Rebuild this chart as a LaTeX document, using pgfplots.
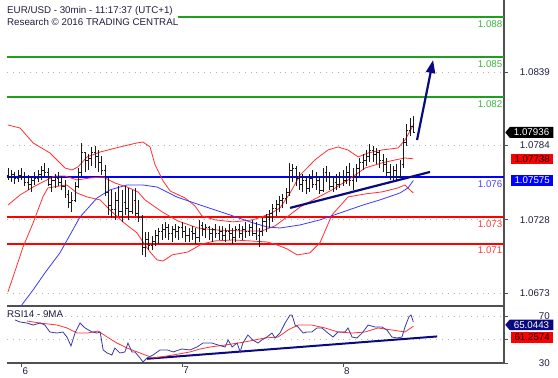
\documentclass[border=0pt]{standalone}
\usepackage{fontspec}
\setmainfont{Liberation Sans}
\usepackage{pgfplots}
\usepackage{pgfplotstable}
\pgfplotsset{compat=1.18}
\usetikzlibrary{shapes.symbols,arrows.meta}
\definecolor{barc}{HTML}{1A1A1A}
\definecolor{bbred}{HTML}{FF3030}
\definecolor{mablue}{HTML}{3A3AFF}
\definecolor{navyc}{HTML}{0A0A80}
\definecolor{lvgreen}{HTML}{1EA01E}
\definecolor{greent}{HTML}{3CB43C}
\definecolor{redt}{HTML}{FF3C3C}
\definecolor{bluet}{HTML}{4646FF}
\definecolor{axc}{HTML}{505050}
\definecolor{gridc}{HTML}{B4B4B4}
\definecolor{labc}{HTML}{1E1E3C}
\definecolor{rsiblue}{HTML}{3C3CA0}
\newcommand{\lbl}{\fontsize{9.8}{11}\selectfont}
\pgfdeclareplotmark{rtick}{\pgfpathmoveto{\pgfpointorigin}\pgfpathlineto{\pgfpoint{1.5bp}{0pt}}\pgfusepathqstroke}
\pgfdeclareplotmark{ltick}{\pgfpathmoveto{\pgfpointorigin}\pgfpathlineto{\pgfpoint{-1.5bp}{0pt}}\pgfusepathqstroke}
\pgfplotstableread{
i H L O C
0 1.07669 1.07579 1.07616 1.07609
1 1.07654 1.07564 1.07609 1.07624
2 1.07639 1.07549 1.07624 1.07594
3 1.07654 1.07564 1.07594 1.07616
4 1.07669 1.07579 1.07616 1.07601
5 1.07639 1.07534 1.07601 1.07564
6 1.07616 1.07504 1.07564 1.07549
7 1.07609 1.07489 1.07549 1.07579
8 1.07639 1.07541 1.07579 1.07594
9 1.07654 1.07564 1.07594 1.07624
10 1.07684 1.07579 1.07624 1.07654
11 1.07707 1.07609 1.07654 1.07639
12 1.07669 1.07534 1.07639 1.07549
13 1.07609 1.07489 1.07549 1.07579
14 1.07624 1.07519 1.07579 1.07594
15 1.07639 1.07534 1.07594 1.07564
16 1.07609 1.07504 1.07564 1.07534
17 1.07579 1.07444 1.07534 1.07474
18 1.07504 1.07369 1.07474 1.07414
19 1.07489 1.07339 1.07414 1.07429
20 1.07564 1.07414 1.07429 1.07534
21 1.07669 1.07519 1.07534 1.07639
22 1.07857 1.07609 1.07639 1.07789
23 1.07789 1.07639 1.07789 1.07729
24 1.07774 1.07654 1.07729 1.07744
25 1.07827 1.07684 1.07744 1.07789
26 1.07834 1.07669 1.07789 1.07759
27 1.07804 1.07639 1.07759 1.07714
28 1.07759 1.07616 1.07714 1.07654
29 1.07692 1.07459 1.07654 1.07489
30 1.07594 1.07316 1.07489 1.07391
31 1.07504 1.07294 1.07391 1.07354
32 1.07489 1.07279 1.07354 1.07429
33 1.07534 1.07309 1.07429 1.07339
34 1.07504 1.07264 1.07339 1.07414
35 1.07534 1.07316 1.07414 1.07369
36 1.07519 1.07279 1.07369 1.07339
37 1.07504 1.07324 1.07339 1.07429
38 1.07519 1.07309 1.07429 1.07324
39 1.07429 1.07264 1.07324 1.07294
40 1.07316 1.07016 1.07294 1.07069
41 1.07189 1.07001 1.07069 1.07129
42 1.07189 1.07054 1.07129 1.07084
43 1.07159 1.07054 1.07084 1.07114
44 1.07204 1.07084 1.07114 1.07159
45 1.07219 1.07099 1.07159 1.07189
46 1.07249 1.07129 1.07189 1.07204
47 1.07264 1.07144 1.07204 1.07219
48 1.07249 1.07129 1.07219 1.07174
49 1.07234 1.07114 1.07174 1.07204
50 1.07249 1.07144 1.07204 1.07189
51 1.07234 1.07129 1.07189 1.07219
52 1.07264 1.07144 1.07219 1.07189
53 1.07234 1.07114 1.07189 1.07159
54 1.07219 1.07114 1.07159 1.07189
55 1.07234 1.07129 1.07189 1.07174
56 1.07219 1.07099 1.07174 1.07144
57 1.07279 1.07114 1.07144 1.07234
58 1.07264 1.07159 1.07234 1.07204
59 1.07249 1.07144 1.07204 1.07219
60 1.07234 1.07129 1.07219 1.07174
61 1.07219 1.07114 1.07174 1.07204
62 1.07249 1.07144 1.07204 1.07174
63 1.07234 1.07129 1.07174 1.07189
64 1.07234 1.07129 1.07189 1.07159
65 1.07219 1.07114 1.07159 1.07189
66 1.07249 1.07129 1.07189 1.07174
67 1.07219 1.07099 1.07174 1.07144
68 1.07234 1.07114 1.07144 1.07204
69 1.07249 1.07144 1.07204 1.07174
70 1.07234 1.07129 1.07174 1.07204
71 1.07264 1.07144 1.07204 1.07189
72 1.07249 1.07159 1.07189 1.07219
73 1.07279 1.07159 1.07219 1.07174
74 1.07264 1.07129 1.07174 1.07159
75 1.07219 1.07076 1.07159 1.07189
76 1.07294 1.07159 1.07189 1.07264
77 1.07324 1.07189 1.07264 1.07294
78 1.07354 1.07219 1.07294 1.07324
79 1.07399 1.07264 1.07324 1.07369
80 1.07429 1.07309 1.07369 1.07399
81 1.07459 1.07339 1.07399 1.07429
82 1.07474 1.07369 1.07429 1.07444
83 1.07519 1.07399 1.07444 1.07489
84 1.07707 1.07459 1.07489 1.07654
85 1.07699 1.07564 1.07654 1.07669
86 1.07684 1.07534 1.07669 1.07594
87 1.07639 1.07504 1.07594 1.07549
88 1.07624 1.07489 1.07549 1.07579
89 1.07609 1.07474 1.07579 1.07519
90 1.07624 1.07489 1.07519 1.07594
91 1.07654 1.07519 1.07594 1.07549
92 1.07639 1.07504 1.07549 1.07579
93 1.07609 1.07474 1.07579 1.07504
94 1.07669 1.07489 1.07504 1.07639
95 1.07684 1.07564 1.07639 1.07609
96 1.07639 1.07504 1.07609 1.07534
97 1.07609 1.07489 1.07534 1.07564
98 1.07624 1.07504 1.07564 1.07549
99 1.07639 1.07519 1.07549 1.07609
100 1.07654 1.07534 1.07609 1.07579
101 1.07684 1.07549 1.07579 1.07639
102 1.07707 1.07534 1.07639 1.07579
103 1.07669 1.07504 1.07579 1.07609
104 1.07699 1.07564 1.07609 1.07669
105 1.07744 1.07609 1.07669 1.07714
106 1.07774 1.07654 1.07714 1.07729
107 1.07804 1.07684 1.07729 1.07759
108 1.07849 1.07714 1.07759 1.07804
109 1.07834 1.07714 1.07804 1.07774
110 1.07819 1.07699 1.07774 1.07789
111 1.07804 1.07669 1.07789 1.07729
112 1.07774 1.07639 1.07729 1.07699
113 1.07744 1.07609 1.07699 1.07639
114 1.07699 1.07579 1.07639 1.07609
115 1.07684 1.07564 1.07609 1.07654
116 1.07699 1.07579 1.07654 1.07609
117 1.07729 1.07594 1.07609 1.07699
118 1.07894 1.07669 1.07699 1.07864
119 1.07999 1.07834 1.07864 1.07954
120 1.08045 1.07909 1.07954 1.07984
121 1.08060 1.07939 1.07984 1.07936
}\bars
\begin{document}
\begin{tikzpicture}
\path[use as bounding box] (0,0) rectangle (558bp,378bp);
\begin{axis}[
  at={(7bp,72bp)}, anchor=south west,
  scale only axis, width=497bp, height=306bp,
  xmin=-0.3, xmax=148.06, ymin=1.06632, ymax=1.08931,
  axis x line*=bottom, axis y line*=right,
  xtick=\empty,
  ytick={1.0673,1.0728,1.0784,1.0839},
  yticklabels={1.0673,1.0728,1.0784,1.0839},
  ymajorgrids, grid style={gridc, dash pattern=on 0.8bp off 5bp, line width=0.7bp},
  tick align=outside, major tick length=4bp,
  tick style={axc, line width=0.8bp},
  axis line style={axc, line width=1.2bp},
  yticklabel style={font=\lbl, text=labc, anchor=east, xshift=42bp, inner sep=0pt},
  clip mode=individual,
]
% level lines
\addplot[draw=lvgreen, line width=2bp] coordinates {(50.7,1.08805) (148.06,1.08805)};
\addplot[draw=lvgreen, line width=2bp] coordinates {(-0.3,1.085) (148.06,1.085)};
\addplot[draw=lvgreen, line width=2bp] coordinates {(-0.3,1.082) (148.06,1.082)};
\addplot[draw=blue, line width=1.6bp] coordinates {(-0.3,1.0760) (148.06,1.0760)};
\addplot[draw=red, line width=1.6bp] coordinates {(-0.3,1.073) (148.06,1.073)};
\addplot[draw=red, line width=1.6bp] coordinates {(-0.3,1.071) (148.06,1.071)};
% Bollinger bands
\addplot[bbred, line width=0.8bp] coordinates {(0,1.07992) (3.6,1.07969) (7.5,1.07857) (12.5,1.07782) (17.0,1.07669) (19.1,1.07654) (20.9,1.07677) (23.6,1.07752) (27.5,1.07789) (33.4,1.07827) (38.5,1.07857) (40.3,1.07864) (42.4,1.07827) (43.9,1.07692) (46.3,1.07571) (48.4,1.07496) (52.8,1.07444) (55.8,1.07384) (57.9,1.07309) (61.8,1.07279) (67.2,1.07264) (73.1,1.07279) (78.2,1.07324) (81.2,1.07369) (84.2,1.07481) (87.2,1.07616) (89.3,1.07669) (91.6,1.07729) (95.5,1.07804) (98.5,1.07827) (101.5,1.07804) (104.5,1.07752) (107.5,1.07782) (111.6,1.07804) (116.4,1.07819) (118.5,1.07879) (121,1.07992)};
\addplot[bbred, line width=0.8bp] coordinates {(0,1.07391) (3.6,1.07466) (7.5,1.07526) (10.4,1.07564) (14.0,1.07609) (17.0,1.07609) (20.6,1.07579) (24.5,1.07594) (28.4,1.07601) (31.9,1.07556) (35.5,1.07526) (38.8,1.07489) (40.9,1.07429) (46.0,1.07339) (50.7,1.07271) (56.7,1.07218) (61.8,1.07203) (70.1,1.07196) (75.8,1.07196) (79.7,1.07234) (83.3,1.07301) (87.2,1.07376) (91.6,1.07436) (96.7,1.07504) (101.5,1.07579) (106.6,1.07669) (111.6,1.07707) (115.5,1.07729) (118.5,1.07744) (121,1.07738)};
\addplot[bbred, line width=0.8bp] coordinates {(0,1.06738) (1.5,1.06850) (4.5,1.07076) (7.5,1.07256) (10.4,1.07451) (11.9,1.07519) (15.5,1.07534) (17.6,1.07541) (20.6,1.07481) (23.6,1.07451) (27.5,1.07429) (30.4,1.07354) (34.3,1.07264) (38.5,1.07181) (40.9,1.07091) (42.4,1.07038) (44.5,1.06978) (46.3,1.06970) (49.0,1.07016) (53.7,1.07038) (57.9,1.07098) (61.8,1.07121) (67.2,1.07128) (72.2,1.07121) (77.3,1.07113) (80.3,1.07091) (83.3,1.07061) (86.3,1.07016) (90.1,1.07031) (93.1,1.07106) (96.7,1.07316) (101.5,1.07451) (106.6,1.07474) (111.6,1.07489) (116.4,1.07519) (118.5,1.07541) (120.0,1.07504) (121,1.07481)};
% long moving average
\addplot[mablue, line width=0.8bp] coordinates {(3.0,1.06602) (7.5,1.06753) (11.0,1.06880) (15.5,1.07031) (21.5,1.07301) (26.6,1.07444) (30.4,1.07504) (35.5,1.07541) (40.3,1.07541) (44.5,1.07526) (50.4,1.07451) (57.3,1.07391) (66.3,1.07316) (72.2,1.07264) (77.3,1.07226) (81.2,1.07218) (87.2,1.07241) (93.1,1.07279) (99.1,1.07331) (106.0,1.07391) (111.0,1.07429) (117.0,1.07481) (119.4,1.07519) (121,1.07575)};
% OHLC bars
\addplot[barc, only marks, mark=rtick, mark options={barc, line width=0.8bp},
  error bars/.cd, y dir=both, y explicit, error mark=none,
  error bar style={barc, line width=0.8bp}]
  table[x=i, y=C, y error plus expr=\thisrow{H}-\thisrow{C}, y error minus expr=\thisrow{C}-\thisrow{L}] {\bars};
\addplot[barc, only marks, mark=ltick, mark options={barc, line width=0.8bp}] table[x=i, y=O] {\bars};
% trendline and arrow
\addplot[navyc, line width=2.2bp] coordinates {(84.2,1.07369) (125.97,1.07639)};
\addplot[navyc, line width=2.2bp, -{Triangle[width=9bp,length=13bp]}] coordinates {(122.1,1.07879) (126.9,1.08480)};
% level labels
\node[font=\lbl, text=greent, anchor=north east, inner sep=0pt] at (axis cs:148.06,1.088) [xshift=-1.5bp, yshift=-3bp] {1.088};
\node[font=\lbl, text=greent, anchor=north east, inner sep=0pt] at (axis cs:148.06,1.085) [xshift=-1.5bp, yshift=-3bp] {1.085};
\node[font=\lbl, text=greent, anchor=north east, inner sep=0pt] at (axis cs:148.06,1.082) [xshift=-1.5bp, yshift=-3bp] {1.082};
\node[font=\lbl, text=bluet, anchor=north east, inner sep=0pt] at (axis cs:148.06,1.0760) [xshift=-1.5bp, yshift=-3bp] {1.076};
\node[font=\lbl, text=redt, anchor=north east, inner sep=0pt] at (axis cs:148.06,1.073) [xshift=-1.5bp, yshift=-3bp] {1.073};
\node[font=\lbl, text=redt, anchor=north east, inner sep=0pt] at (axis cs:148.06,1.071) [xshift=-1.5bp, yshift=-3bp] {1.071};
% title
\node[font=\lbl, text=labc, anchor=base west, inner sep=0pt] at (axis description cs:0,1) [yshift=-14bp] {EUR/USD - 30min - 11:17:37 (UTC+1)};
\node[font=\lbl, text=labc, anchor=base west, inner sep=0pt] at (axis description cs:0,1) [yshift=-26bp] {Research © 2016 TRADING CENTRAL};
% value boxes
\node[signal, signal to=west, signal pointer angle=100, fill=black, text=white, font=\lbl, inner sep=1bp, minimum height=11bp, minimum width=48bp, anchor=west] at (axis cs:148.06,1.07936) [xshift=1bp] {1.07936};
\node[fill=red, text=black, font=\lbl, inner sep=1bp, minimum height=10.5bp, minimum width=42bp, anchor=west] at (axis cs:148.06,1.07738) [xshift=7bp] {1.07738};
\node[fill=blue, text=white, font=\lbl, inner sep=1bp, minimum height=10.5bp, minimum width=42bp, anchor=west] at (axis cs:148.06,1.07575) [xshift=7bp] {1.07575};
\end{axis}
\begin{axis}[
  at={(7bp,15bp)}, anchor=south west,
  scale only axis, width=497bp, height=57bp,
  xmin=-0.3, xmax=148.06, ymin=30, ymax=78.5,
  axis x line*=bottom, axis y line*=right,
  xtick={4,52,100}, xticklabels={6,7,8},
  ytick={30,50,70}, yticklabels={30,,70},
  ymajorgrids, grid style={gridc, dash pattern=on 0.8bp off 5bp, line width=0.7bp},
  tick align=outside, major tick length=4bp,
  tick style={axc, line width=0.8bp},
  axis line style={axc, line width=1.2bp},
  yticklabel style={font=\lbl, text=labc, anchor=east, xshift=42bp, inner sep=0pt},
  xticklabel style={font=\lbl, text=labc, anchor=north west, xshift=1bp, inner sep=0pt},
  clip mode=individual,
]
\addplot[navyc, line width=2bp] coordinates {(41.5,33.6) (128.1,52.6)};
\addplot[red!80!white, line width=0.8bp] coordinates {(5.7,65.7) (9.6,64.0) (14.6,62.3) (17.6,59.8) (20.6,55.5) (23.6,55.5) (26.9,57.2) (29.6,52.1) (32.5,47.0) (35.5,42.8) (39.4,38.5) (43.3,34.3) (45.4,35.1) (49.3,36.8) (54.3,39.4) (57.3,41.9) (60.3,43.6) (64.8,45.3) (70.7,47.9) (76.7,51.3) (80.6,52.1) (83.6,58.1) (86.6,62.3) (90.7,62.3) (94.6,59.8) (98.5,56.4) (102.7,55.5) (106.6,56.4) (110.4,59.8) (114.6,58.1) (118.5,56.4) (121,61.26)};
\addplot[rsiblue, line width=0.8bp] coordinates {(2.1,66.6) (3.6,64.9) (5.7,64.0) (7.5,62.3) (9.6,64.0) (11.0,62.3) (12.5,56.4) (14.6,55.5) (16.4,56.4) (17.6,52.1) (18.8,44.5) (20.0,55.5) (21.5,64.0) (23.0,59.8) (25.1,56.4) (26.6,55.5) (27.5,56.4) (28.4,41.1) (29.6,38.5) (31.0,36.8) (31.9,42.8) (33.4,38.5) (34.9,39.4) (35.8,47.0) (37.0,39.4) (37.9,39.4) (39.4,34.3) (40.3,30.9) (41.5,34.3) (43.3,36.8) (45.4,41.1) (47.5,41.1) (49.3,39.4) (51.9,41.9) (54.3,41.1) (56.4,43.6) (58.2,47.0) (59.7,47.0) (60.9,47.0) (62.7,45.3) (64.8,43.6) (65.7,49.6) (66.9,43.6) (68.4,47.0) (69.3,39.4) (70.1,47.0) (71.6,53.8) (73.1,49.6) (74.6,47.0) (75.8,49.6) (77.3,52.1) (78.8,55.5) (79.7,51.3) (81.2,55.5) (82.7,64.0) (84.2,70.8) (84.8,70.8) (85.7,62.3) (86.6,60.6) (88.1,55.5) (89.3,56.4) (90.7,56.4) (92.2,59.8) (93.7,59.8) (95.5,55.5) (97.0,52.1) (98.5,56.4) (100.6,56.4) (101.5,59.8) (102.7,52.1) (104.2,51.3) (105.7,55.5) (107.5,62.3) (109.6,60.6) (111.6,60.6) (113.1,58.1) (114.6,52.1) (116.1,51.3) (117.6,52.1) (118.5,60.6) (119.7,69.5) (120.3,70.8) (121,65.04)};
\node[font=\lbl, text=labc, anchor=north west, inner sep=0pt] at (axis description cs:0,1) [yshift=-4bp] {RSI14 - 9MA};
\node[signal, signal to=west, signal pointer angle=100, fill=navyc, text=white, font=\lbl, inner sep=1bp, minimum height=10.5bp, minimum width=48bp, anchor=west] at (axis cs:148.06,65.0443) [xshift=1bp, yshift=-3bp] {65.0443};
\node[fill=red, text=black, font=\lbl, inner sep=1bp, minimum height=10.5bp, minimum width=42bp, anchor=west] at (axis cs:148.06,61.2574) [xshift=7bp, yshift=-11bp] {61.2574};
\end{axis}
\end{tikzpicture}
\end{document}
